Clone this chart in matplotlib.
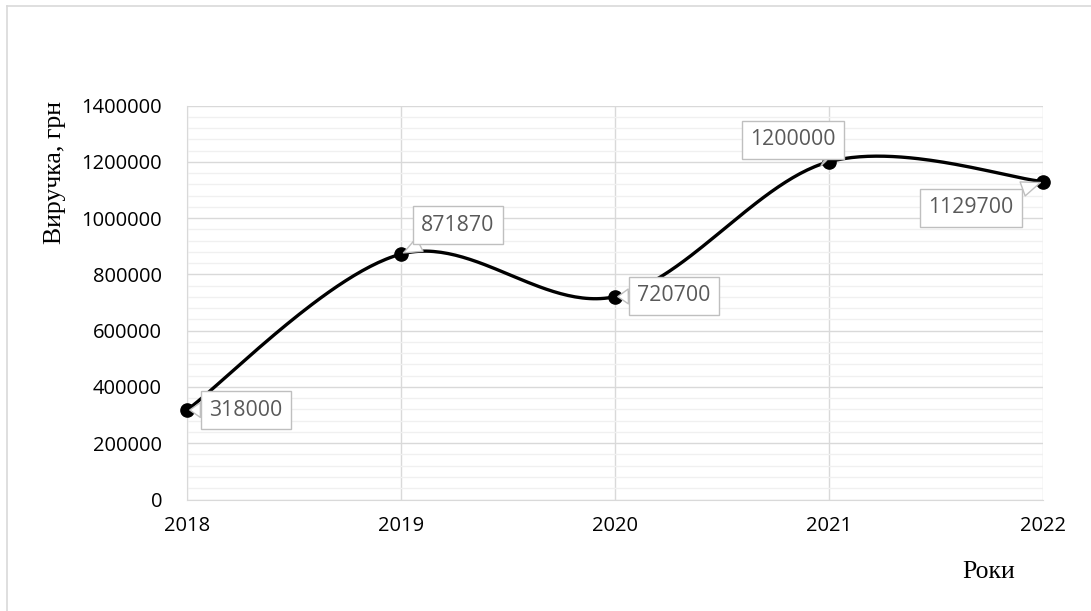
import numpy as np
import matplotlib
matplotlib.use("Agg")
import matplotlib.pyplot as plt
from matplotlib.ticker import MultipleLocator, FuncFormatter
from matplotlib.lines import Line2D

# Data
years = [2018, 2019, 2020, 2021, 2022]
revenue = [318000, 871870, 720700, 1200000, 1129700]
year_labels = ["2018", "2019", "2020", "2021", "2022"]
y_title = "Виручка, грн"
x_title = "Роки"

# Label placement (offsets in pixels from each point)
label_offsets = [(59, 0), (57, 29), (59, 1), (-36, 22), (-72, -26)]

SANS = "Open Sans"
SERIF = "Liberation Serif"


def smooth_curve(xs, ys, n=60):
    """Cubic Bezier smoothing through every point (Catmull-Rom tangents)."""
    P = np.column_stack([xs, ys]).astype(float)
    m = len(P)
    out = []
    for i in range(m - 1):
        p0 = P[i - 1] if i > 0 else P[i]
        p1 = P[i]
        p2 = P[i + 1]
        p3 = P[i + 2] if i + 2 < m else P[i + 1]
        c1 = p1 + (p2 - p0) / 6.0
        c2 = p2 - (p3 - p1) / 6.0
        t = np.linspace(0, 1, n)[:, None]
        seg = ((1 - t) ** 3) * p1 + 3 * ((1 - t) ** 2) * t * c1 + 3 * (1 - t) * t ** 2 * c2 + t ** 3 * p2
        out.append(seg if i == 0 else seg[1:])
    pts = np.vstack(out)
    return pts[:, 0], pts[:, 1]


W, H = 1091, 611
fig = plt.figure(figsize=(W / 100, H / 100), dpi=100)
fig.patch.set_facecolor("white")

# Chart-area frame (left and top edges visible)
frame_c = "#D9D9D9"
fig.add_artist(Line2D([7 / W, 7 / W], [0, 1 - 6 / H], transform=fig.transFigure, color=frame_c, lw=1.2))
fig.add_artist(Line2D([7 / W, 1], [1 - 6 / H, 1 - 6 / H], transform=fig.transFigure, color=frame_c, lw=1.2))

L, R, T, B = 187, 1043, 105.5, 499.5
ax = fig.add_axes([L / W, 1 - B / H, (R - L) / W, (B - T) / H])
ax.set_xlim(2018, 2022)
ax.set_ylim(0, 1400000)

ax.set_xticks(years)
ax.set_xticklabels(year_labels)
ax.yaxis.set_major_locator(MultipleLocator(200000))
ax.yaxis.set_minor_locator(MultipleLocator(40000))
ax.yaxis.set_major_formatter(FuncFormatter(lambda v, p: f"{int(round(v))}"))

ax.grid(which="major", axis="both", color="#D9D9D9", lw=1.0)
ax.grid(which="minor", axis="y", color="#F0F0F0", lw=1.0)
ax.set_axisbelow(True)
for s in ax.spines.values():
    s.set_visible(False)
for side in ("bottom", "left"):
    ax.spines[side].set_visible(True)
    ax.spines[side].set_color("#D9D9D9")

ax.tick_params(axis="both", which="both", length=0)
ax.tick_params(axis="y", pad=18)
ax.tick_params(axis="x", pad=12)
for lab in ax.get_xticklabels() + ax.get_yticklabels():
    lab.set_fontfamily(SANS)
    lab.set_fontsize(14.5)

sx, sy = smooth_curve(years, revenue)
ax.plot(sx, sy, color="black", lw=2.4, solid_capstyle="round", clip_on=False, zorder=3)
ax.plot(years, revenue, "o", color="black", ms=9.5, clip_on=False, zorder=4)

for x, y, (dx, dy) in zip(years, revenue, label_offsets):
    ax.annotate(
        f"{y}", xy=(x, y), xytext=(dx, dy), textcoords="offset pixels",
        ha="center", va="center", fontsize=15.3, family=SANS, color="#595959",
        bbox=dict(boxstyle="square,pad=0.4", fc="white", ec="#BFBFBF", lw=1.0),
        arrowprops=dict(arrowstyle="wedge,tail_width=0.7,shrink_factor=0.5", fc="white",
                        ec="#BFBFBF", lw=1.0, shrinkA=0, shrinkB=2),
        annotation_clip=False, zorder=5,
    )

fig.text(55 / W, 1 - 172 / H, y_title, rotation=90, ha="center", va="center",
         family=SERIF, fontsize=18.5)
fig.text(989 / W, 1 - 572 / H, x_title, ha="center", va="center",
         family=SERIF, fontsize=18.5)

fig.savefig("out.png", dpi=100)
